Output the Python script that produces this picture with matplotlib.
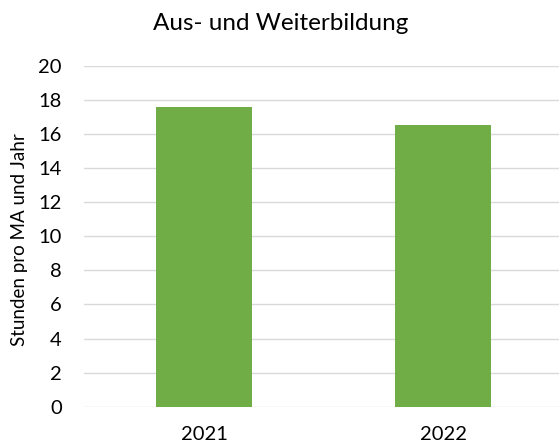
import matplotlib
matplotlib.use("Agg")
import matplotlib.pyplot as plt

# Data
years = ["2021", "2022"]
hours = [17.6, 16.55]
y_ticks = [0, 2, 4, 6, 8, 10, 12, 14, 16, 18, 20]

plt.rcParams['font.family'] = ['Lato', 'DejaVu Sans']

fig = plt.figure(figsize=(5.59, 4.46), dpi=100)
ax = fig.add_axes([84 / 559, 1 - 406.7 / 446, (559 - 84) / 559, (406.7 - 66) / 446])

x = range(len(years))
ax.bar(x, hours, width=0.4, color='#70AD47', zorder=3)

ax.set_xlim(-0.502, 1.485)
ax.set_ylim(0, 20)
ax.set_yticks(y_ticks)
ax.set_xticks(list(x))
ax.set_xticklabels(years)

ax.grid(axis='y', color='#d9d9d9', linewidth=1.0, zorder=0)
for s in ax.spines.values():
    s.set_visible(False)
ax.tick_params(axis='both', length=0, labelsize=14.5, colors='#000000')
ax.tick_params(axis='y', pad=16)
ax.tick_params(axis='x', pad=14)

ax.set_ylabel("Stunden pro MA und Jahr", fontsize=13.5)
ax.yaxis.set_label_coords(-0.118, 0.49)
fig.text(281 / 559, 1 - 24 / 446, "Aus- und Weiterbildung", fontsize=17.5,
         ha='center', va='center')

fig.savefig("out.png", dpi=100)
